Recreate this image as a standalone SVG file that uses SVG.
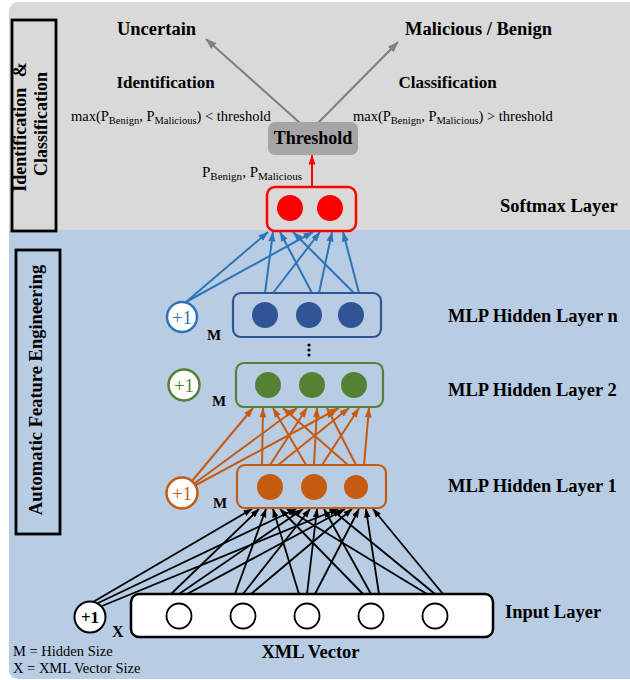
<svg xmlns="http://www.w3.org/2000/svg" width="630" height="680" viewBox="0 0 630 680">
<defs>
<style>
.t{font-family:"Liberation Serif","Times New Roman",serif;fill:#000}
.b{font-weight:bold}
.lbl{font-family:"Liberation Serif","Times New Roman",serif;font-weight:bold;font-size:18.5px;fill:#000}
.cb{stroke:#2e75b6;stroke-width:2;fill:none;marker-end:url(#mb)}
.co{stroke:#c55a11;stroke-width:2;fill:none;marker-end:url(#mo)}
.ck{stroke:#000;stroke-width:1.8;fill:none;marker-end:url(#mk)}
.cg{stroke:#7f7f7f;stroke-width:2;fill:none;marker-end:url(#mg)}
.cr{stroke:#ff0000;stroke-width:2;fill:none;marker-end:url(#mr)}
.box{fill:none;stroke-width:2.2}
</style>
<marker id="mb" markerUnits="userSpaceOnUse" viewBox="0 0 10 8" markerWidth="10" markerHeight="8" refX="9.5" refY="4" orient="auto"><path d="M0,0.5 L10,4 L0,7.5 z" fill="#2e75b6"/></marker>
<marker id="mo" markerUnits="userSpaceOnUse" viewBox="0 0 10 8" markerWidth="10" markerHeight="8" refX="9.5" refY="4" orient="auto"><path d="M0,0.5 L10,4 L0,7.5 z" fill="#c55a11"/></marker>
<marker id="mk" markerUnits="userSpaceOnUse" viewBox="0 0 9 7" markerWidth="9" markerHeight="7" refX="8.5" refY="3.5" orient="auto"><path d="M0,0.3 L9,3.5 L0,6.7 z" fill="#000"/></marker>
<marker id="mg" markerUnits="userSpaceOnUse" viewBox="0 0 11 9" markerWidth="11" markerHeight="9" refX="10.5" refY="4.5" orient="auto"><path d="M0,0.5 L11,4.5 L0,8.5 z" fill="#7f7f7f"/></marker>
<marker id="mr" markerUnits="userSpaceOnUse" viewBox="0 0 10 8" markerWidth="10" markerHeight="8" refX="9.5" refY="4" orient="auto"><path d="M0,0.5 L10,4 L0,7.5 z" fill="#ff0000"/></marker>
</defs>

<!-- backgrounds -->
<rect x="9" y="2" width="640" height="240" rx="9" fill="#d9d9d9"/>
<path d="M9,230 H640 V679 H18 A9,9 0 0 1 9,670 Z" fill="#b8cce4"/>

<!-- section labels -->
<g id="section-top">
<rect x="12" y="20" width="44" height="211" fill="none" stroke="#000" stroke-width="2.8"/>
<text class="t b" font-size="18" transform="translate(26,127) rotate(-90)" text-anchor="middle">Identification <tspan dx="6">&amp;</tspan></text>
<text class="t b" font-size="18" transform="translate(47,124) rotate(-90)" text-anchor="middle">Classification</text>
</g>
<g id="section-bottom">
<rect x="16" y="250" width="44" height="284" fill="none" stroke="#000" stroke-width="2.8"/>
<text class="t b" font-size="18.5" transform="translate(42,390) rotate(-90)" text-anchor="middle">Automatic Feature Engineering</text>
</g>

<!-- top texts -->
<g id="out-uncertain"><text class="lbl" x="156.5" y="35" text-anchor="middle">Uncertain</text></g>
<g id="out-malicious"><text class="lbl" x="478.5" y="35" text-anchor="middle">Malicious / Benign</text></g>
<text class="t b" font-size="17" x="165.5" y="88" text-anchor="middle">Identification</text>
<text class="t b" font-size="17" x="447.5" y="88" text-anchor="middle">Classification</text>
<text class="t" font-size="14.5" x="71" y="121">max(P<tspan font-size="10.5" dy="3">Benign</tspan><tspan dy="-3">, P</tspan><tspan font-size="10.5" dy="3">Malicious</tspan><tspan dy="-3">) &lt; threshold</tspan></text>
<text class="t" font-size="14.5" x="353" y="121">max(P<tspan font-size="10.5" dy="3">Benign</tspan><tspan dy="-3">, P</tspan><tspan font-size="10.5" dy="3">Malicious</tspan><tspan dy="-3">) &gt; threshold</tspan></text>
<text class="t" font-size="15" x="202" y="177">P<tspan font-size="11" dy="3">Benign</tspan><tspan dy="-3">, P</tspan><tspan font-size="11" dy="3">Malicious</tspan></text>

<!-- layer labels -->
<text class="lbl" x="500" y="212">Softmax Layer</text>
<text class="lbl" x="448" y="322">MLP Hidden Layer n</text>
<text class="lbl" x="448" y="396">MLP Hidden Layer 2</text>
<text class="lbl" x="448" y="492">MLP Hidden Layer 1</text>
<text class="lbl" x="505" y="618">Input Layer</text>
<text class="lbl" x="310.5" y="658" text-anchor="middle">XML Vector</text>
<text class="t" font-size="14.5" x="13" y="656">M = Hidden Size</text>
<text class="t" font-size="14.5" x="13" y="673">X = XML Vector Size</text>

<!-- connectors -->
<g id="connectors">
<line class="cg" x1="300" y1="123" x2="206" y2="39"/>
<line class="cg" x1="318" y1="123" x2="398" y2="42"/>
<line class="cr" x1="312" y1="187" x2="312" y2="155"/>

<line class="cb" x1="186" y1="302" x2="268" y2="232"/>
<line class="cb" x1="186" y1="302" x2="313" y2="232"/>
<line class="cb" x1="265" y1="293" x2="273" y2="232"/>
<line class="cb" x1="273" y1="293" x2="320" y2="232"/>
<line class="cb" x1="312" y1="293" x2="280" y2="232"/>
<line class="cb" x1="319" y1="293" x2="332" y2="232"/>
<line class="cb" x1="354" y1="293" x2="293" y2="232"/>
<line class="cb" x1="359" y1="293" x2="343" y2="232"/>

<line class="co" x1="192" y1="481" x2="253" y2="408"/>
<line class="co" x1="195" y1="483" x2="297" y2="408"/>
<line class="co" x1="196" y1="485" x2="339" y2="408"/>
<line class="co" x1="262" y1="465" x2="263" y2="408"/>
<line class="co" x1="270" y1="465" x2="307" y2="408"/>
<line class="co" x1="278" y1="465" x2="349" y2="408"/>
<line class="co" x1="306" y1="465" x2="273" y2="408"/>
<line class="co" x1="314" y1="465" x2="317" y2="408"/>
<line class="co" x1="322" y1="465" x2="359" y2="408"/>
<line class="co" x1="348" y1="465" x2="283" y2="408"/>
<line class="co" x1="356" y1="465" x2="327" y2="408"/>
<line class="co" x1="364" y1="465" x2="369" y2="408"/>

<line class="ck" x1="93" y1="602" x2="252" y2="509"/>
<line class="ck" x1="98" y1="603" x2="296" y2="509"/>
<line class="ck" x1="102" y1="606" x2="338" y2="509"/>
<line class="ck" x1="171" y1="594" x2="259" y2="509"/>
<line class="ck" x1="179" y1="594" x2="303" y2="509"/>
<line class="ck" x1="187" y1="594" x2="345" y2="509"/>
<line class="ck" x1="235" y1="594" x2="266" y2="509"/>
<line class="ck" x1="243" y1="594" x2="310" y2="509"/>
<line class="ck" x1="251" y1="594" x2="352" y2="509"/>
<line class="ck" x1="299" y1="594" x2="273" y2="509"/>
<line class="ck" x1="307" y1="594" x2="317" y2="509"/>
<line class="ck" x1="315" y1="594" x2="359" y2="509"/>
<line class="ck" x1="363" y1="594" x2="280" y2="509"/>
<line class="ck" x1="371" y1="594" x2="324" y2="509"/>
<line class="ck" x1="379" y1="594" x2="366" y2="509"/>
<line class="ck" x1="427" y1="594" x2="287" y2="509"/>
<line class="ck" x1="435" y1="594" x2="331" y2="509"/>
<line class="ck" x1="443" y1="594" x2="373" y2="509"/>
</g>

<!-- nodes -->
<g id="threshold">
<rect x="268" y="122" width="90" height="33" rx="7" fill="#a5a5a5"/>
<text class="t b" font-size="18" x="313" y="144" text-anchor="middle">Threshold</text>
</g>

<g id="softmax">
<rect x="267" y="187" width="89" height="44" rx="8" fill="none" stroke="#ff0000" stroke-width="2.5"/>
<circle cx="290" cy="208" r="13" fill="#ff0000"/>
<circle cx="330" cy="208" r="13" fill="#ff0000"/>
</g>

<g id="hidden-n">
<rect class="box" x="233" y="293" width="148" height="44" rx="8" stroke="#2f5597"/>
<circle cx="265" cy="315" r="13" fill="#2f5597"/>
<circle cx="309" cy="315" r="13" fill="#2f5597"/>
<circle cx="351" cy="315" r="13" fill="#2f5597"/>
</g>
<g id="bias-n">
<circle cx="182" cy="317" r="15" fill="#fff" stroke="#2e75b6" stroke-width="2.5"/>
<text class="t" font-size="19" x="182" y="324" text-anchor="middle" fill="#2e75b6" style="fill:#2e75b6">+1</text>
<text class="t b" font-size="15" x="207" y="340">M</text>
</g>

<g id="ellipsis">
<circle cx="309" cy="345" r="1.6" fill="#000"/>
<circle cx="309" cy="350" r="1.6" fill="#000"/>
<circle cx="309" cy="355" r="1.6" fill="#000"/>
</g>

<g id="hidden-2">
<rect class="box" x="236" y="363" width="147" height="44" rx="8" stroke="#548235"/>
<circle cx="268" cy="385" r="13" fill="#548235"/>
<circle cx="312" cy="385" r="13" fill="#548235"/>
<circle cx="354" cy="385" r="13" fill="#548235"/>
</g>
<g id="bias-2">
<circle cx="184" cy="385" r="15.5" fill="#fff" stroke="#548235" stroke-width="2.5"/>
<text class="t" font-size="19" x="184" y="392" text-anchor="middle" style="fill:#548235">+1</text>
<text class="t b" font-size="15" x="212" y="406">M</text>
</g>

<g id="hidden-1">
<rect class="box" x="237" y="465" width="149" height="43" rx="8" stroke="#c55a11"/>
<circle cx="270" cy="487" r="13" fill="#c55a11"/>
<circle cx="314" cy="487" r="13" fill="#c55a11"/>
<circle cx="356" cy="487" r="12" fill="#c55a11"/>
</g>
<g id="bias-1">
<circle cx="182" cy="493" r="15.5" fill="#fff" stroke="#c55a11" stroke-width="2.5"/>
<text class="t" font-size="19" x="182" y="500" text-anchor="middle" style="fill:#c55a11">+1</text>
<text class="t b" font-size="15" x="213" y="508">M</text>
</g>

<g id="input">
<rect x="131" y="594" width="362" height="43" rx="8" fill="#fff" stroke="#000" stroke-width="2.5"/>
<circle cx="179" cy="616" r="12.5" fill="#fff" stroke="#000" stroke-width="1.8"/>
<circle cx="243" cy="616" r="12.5" fill="#fff" stroke="#000" stroke-width="1.8"/>
<circle cx="307" cy="616" r="12.5" fill="#fff" stroke="#000" stroke-width="1.8"/>
<circle cx="371" cy="616" r="12.5" fill="#fff" stroke="#000" stroke-width="1.8"/>
<circle cx="435" cy="616" r="12.5" fill="#fff" stroke="#000" stroke-width="1.8"/>
</g>
<g id="bias-input">
<circle cx="90" cy="617" r="15.5" fill="#fff" stroke="#000" stroke-width="2"/>
<text class="t b" font-size="17" x="90" y="623" text-anchor="middle">+1</text>
<text class="t b" font-size="16" x="112" y="637">X</text>
</g>
</svg>
